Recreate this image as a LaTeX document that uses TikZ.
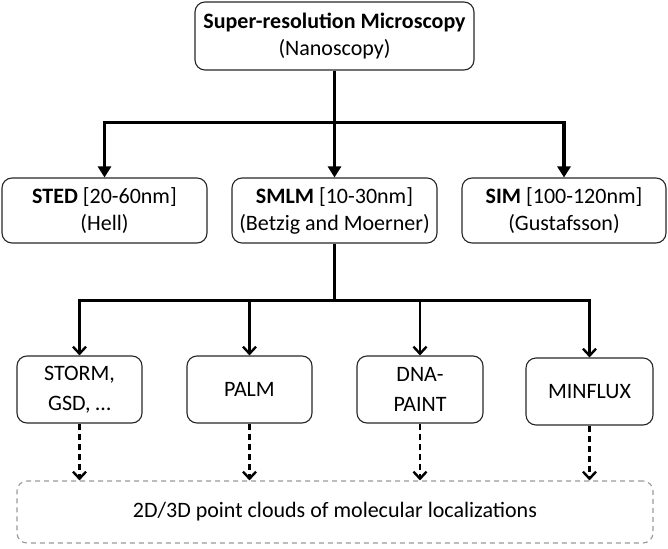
\documentclass[tikz,border=0pt]{standalone}
\usepackage{fontspec}
\setmainfont{Carlito}
\usetikzlibrary{
calc, positioning,
arrows.meta,
shapes}

\begin{document}
\begin{tikzpicture}[x=1pt, y=-1pt,
box/.style={rectangle, rounded corners=10pt, draw=black!85, line width=1.1pt,
  align=center, inner sep=0pt, font=\fontsize{22}{27}\selectfont},
method/.style={box, font=\fontsize{22}{30}\selectfont,
  minimum width=125pt, minimum height=67pt},
trunk/.style={line width=3.2pt, color=black},
branch/.style={trunk, -{Triangle[length=11pt, width=13pt]}},
subbranch/.style={line width=2.4pt, -{Straight Barb[length=7pt, width=13pt]}},
result/.style={line width=2.4pt, dash pattern=on 6pt off 4pt,
  -{Straight Barb[length=7pt, width=13pt]}}]

\useasboundingbox (0, 0) rectangle (668, 548);

\node[box, minimum width=279pt, minimum height=68pt]
(srm) at (334.5, 36)
{\textbf{Super-resolution Microscopy}\\(Nanoscopy)};

\node[box, minimum width=205pt, minimum height=65pt]
(sted) at (104.5, 210.5)
{\textbf{STED} [20-60nm]\\(Hell)};

\node[box, minimum width=205pt, minimum height=65pt]
(smlm) at (334.5, 210.5)
{\textbf{SMLM} [10-30nm]\\(Betzig and Moerner)};

\node[box, minimum width=204pt, minimum height=65pt]
(sim) at (564, 210.5)
{\textbf{SIM} [100-120nm]\\(Gustafsson)};

\node[method] (storm) at (79.5, 389.5) {STORM,\\GSD, …};
\node[method] (palm) at (249.5, 389.5) {PALM};
\node[method, minimum width=126pt] (dna-paint) at (420, 389.5) {DNA-\\PAINT};
\node[method, minimum width=127pt] (minflux) at (589.5, 391.5) {MINFLUX};

\node[box, draw=black!40, dash pattern=on 5pt off 4pt, line width=1.1pt,
minimum width=636pt, minimum height=62pt]
(clouds) at (335, 512)
{2D/3D point clouds of molecular localizations};

\coordinate (split-top) at (334.5, 122.5);
\coordinate (split-smlm) at (334.5, 300.5);

\draw[trunk] (srm) -- (split-top);
\draw[branch] (split-top) -| (sted);
\draw[branch] (split-top) -- (smlm);
\draw[branch] (split-top) -| (sim);

\draw[trunk] (smlm) -- (split-smlm);
\draw[subbranch] (split-smlm) -| (storm);
\draw[subbranch] (split-smlm) -| (palm);
\draw[subbranch] (split-smlm) -| (dna-paint);
\draw[subbranch] (split-smlm) -| (minflux);

\draw[result] (storm) -- (storm |- clouds.north);
\draw[result] (palm) -- (palm |- clouds.north);
\draw[result] (dna-paint) -- (dna-paint |- clouds.north);
\draw[result] (minflux) -- (minflux |- clouds.north);

\end{tikzpicture}
\end{document}
